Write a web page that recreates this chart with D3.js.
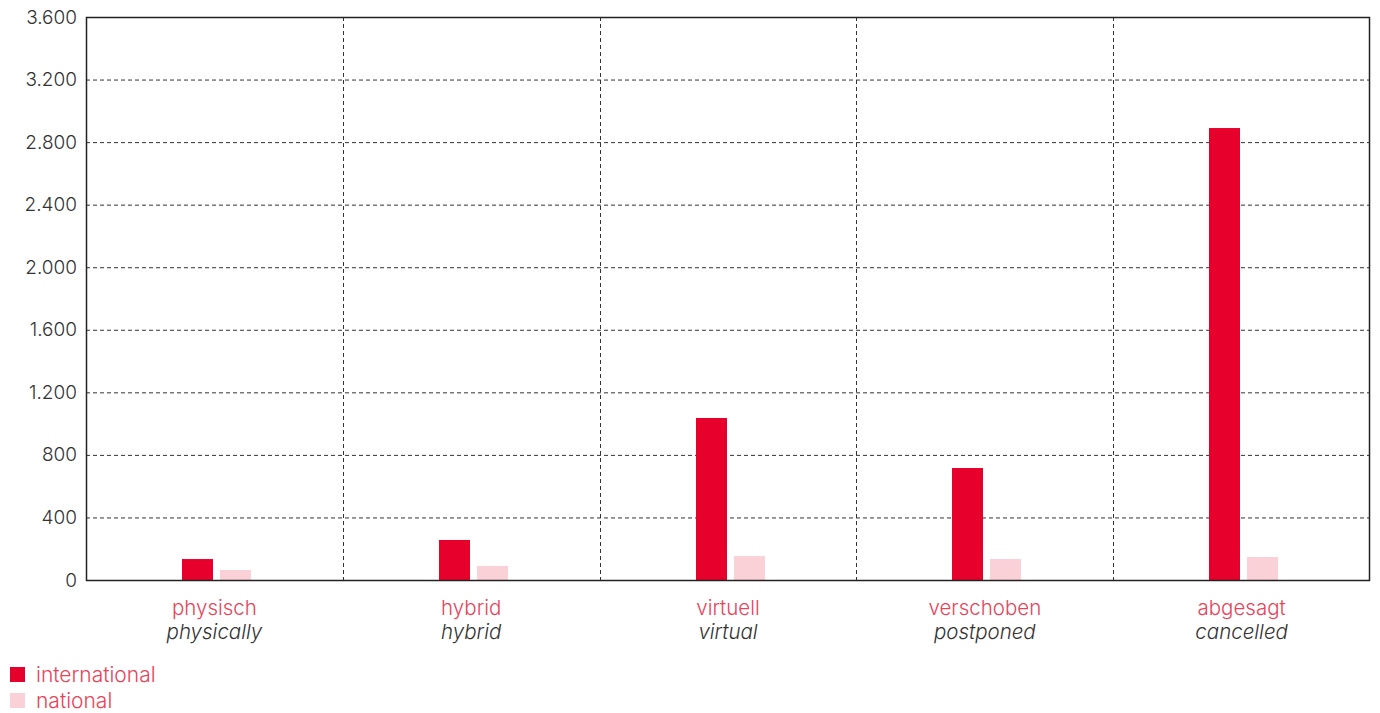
<!DOCTYPE html>
<html><head><meta charset="utf-8">
<script src="https://cdn.jsdelivr.net/npm/d3@7/dist/d3.min.js"></script>
<style>
body{margin:0;background:#fff;}
svg text{font-family:Inter,"Noto Sans",sans-serif;font-weight:300;}
</style></head>
<body><svg id="c" width="1380" height="713"></svg>
<script>
const categoriesDe = ["physisch","hybrid","virtuell","verschoben","abgesagt"];
const categoriesEn = ["physically","hybrid","virtual","postponed","cancelled"];
const seriesNames = ["international","national"];
const international = [134, 256, 1036, 716, 2890];
const national = [64, 90, 153, 134, 147];
const yTicks = [0,400,800,1200,1600,2000,2400,2800,3200,3600];
const colors = ["#e8002d","#f9d1d7"];

const svg = d3.select("#c");
const m = {l:86, r:1370, t:17, b:580};
const x = d3.scaleBand().domain(categoriesDe).range([m.l, m.r]);
const y = d3.scaleLinear().domain([0,3600]).range([m.b, m.t]);
const fmt = v => d3.format(",")(v).replace(/,/g,".");

// horizontal grid
svg.append("g").selectAll("line").data(yTicks.slice(1,-1)).join("line")
  .attr("x1",m.l).attr("x2",m.r).attr("y1",d=>y(d)+0.5).attr("y2",d=>y(d)+0.5)
  .attr("stroke","#333").attr("stroke-dasharray","4,3").attr("stroke-width",1);
// vertical grid
svg.append("g").selectAll("line").data(categoriesDe.slice(1)).join("line")
  .attr("x1",d=>Math.round(x(d))+0.5).attr("x2",d=>Math.round(x(d))+0.5).attr("y1",m.t).attr("y2",m.b)
  .attr("stroke","#333").attr("stroke-dasharray","4,3").attr("stroke-width",1);

const bw = 31, gap = 7, shift = 2;
const rows = categoriesDe.map((c,i)=>({c, vals:[international[i], national[i]]}));
const g = svg.append("g");
rows.forEach(r=>{
  const cx = x(r.c) + x.bandwidth()/2 + shift;
  r.vals.forEach((v,j)=>{
    const x0 = j===0 ? cx - gap/2 - bw : cx + gap/2;
    g.append("rect").attr("x",Math.round(x0)).attr("width",bw).attr("y",y(v)).attr("height",y(0)-y(v)).attr("fill",colors[j]);
  });
});

// frame
svg.append("rect").attr("x",m.l+0.5).attr("y",m.t+0.5).attr("width",m.r-m.l-1).attr("height",m.b-m.t)
  .attr("fill","none").attr("stroke","#222").attr("stroke-width",1.5);

// y axis labels
const ya = svg.append("g").attr("transform",`translate(${m.l},0)`)
  .call(d3.axisLeft(y).tickValues(yTicks).tickFormat(fmt).tickSize(0).tickPadding(9));
ya.select(".domain").remove();
ya.selectAll("text").attr("font-size",19).attr("fill","#333").attr("font-family","Inter,sans-serif").attr("font-weight",300);

// x labels
const xa = svg.append("g").attr("transform",`translate(0,${m.b})`)
  .call(d3.axisBottom(x).tickSize(0).tickFormat(()=>""));
xa.select(".domain").remove();
xa.selectAll(".tick").each(function(d,i){
  const t = d3.select(this);
  t.append("text").attr("y",35).attr("text-anchor","middle").attr("font-size",20.5)
    .attr("fill","#e8435a").text(categoriesDe[i]);
  t.append("text").attr("y",59).attr("text-anchor","middle").attr("font-size",20.5)
    .attr("fill","#333").attr("font-style","italic").text(categoriesEn[i]);
});

// legend
const lg = svg.append("g");
seriesNames.forEach((n,i)=>{
  lg.append("rect").attr("x",10).attr("y",667+i*26).attr("width",15).attr("height",15).attr("fill",colors[i]);
  lg.append("text").attr("x",36).attr("y",682+i*26).attr("font-size",21).attr("fill","#e8435a").text(n);
});
</script></body></html>
